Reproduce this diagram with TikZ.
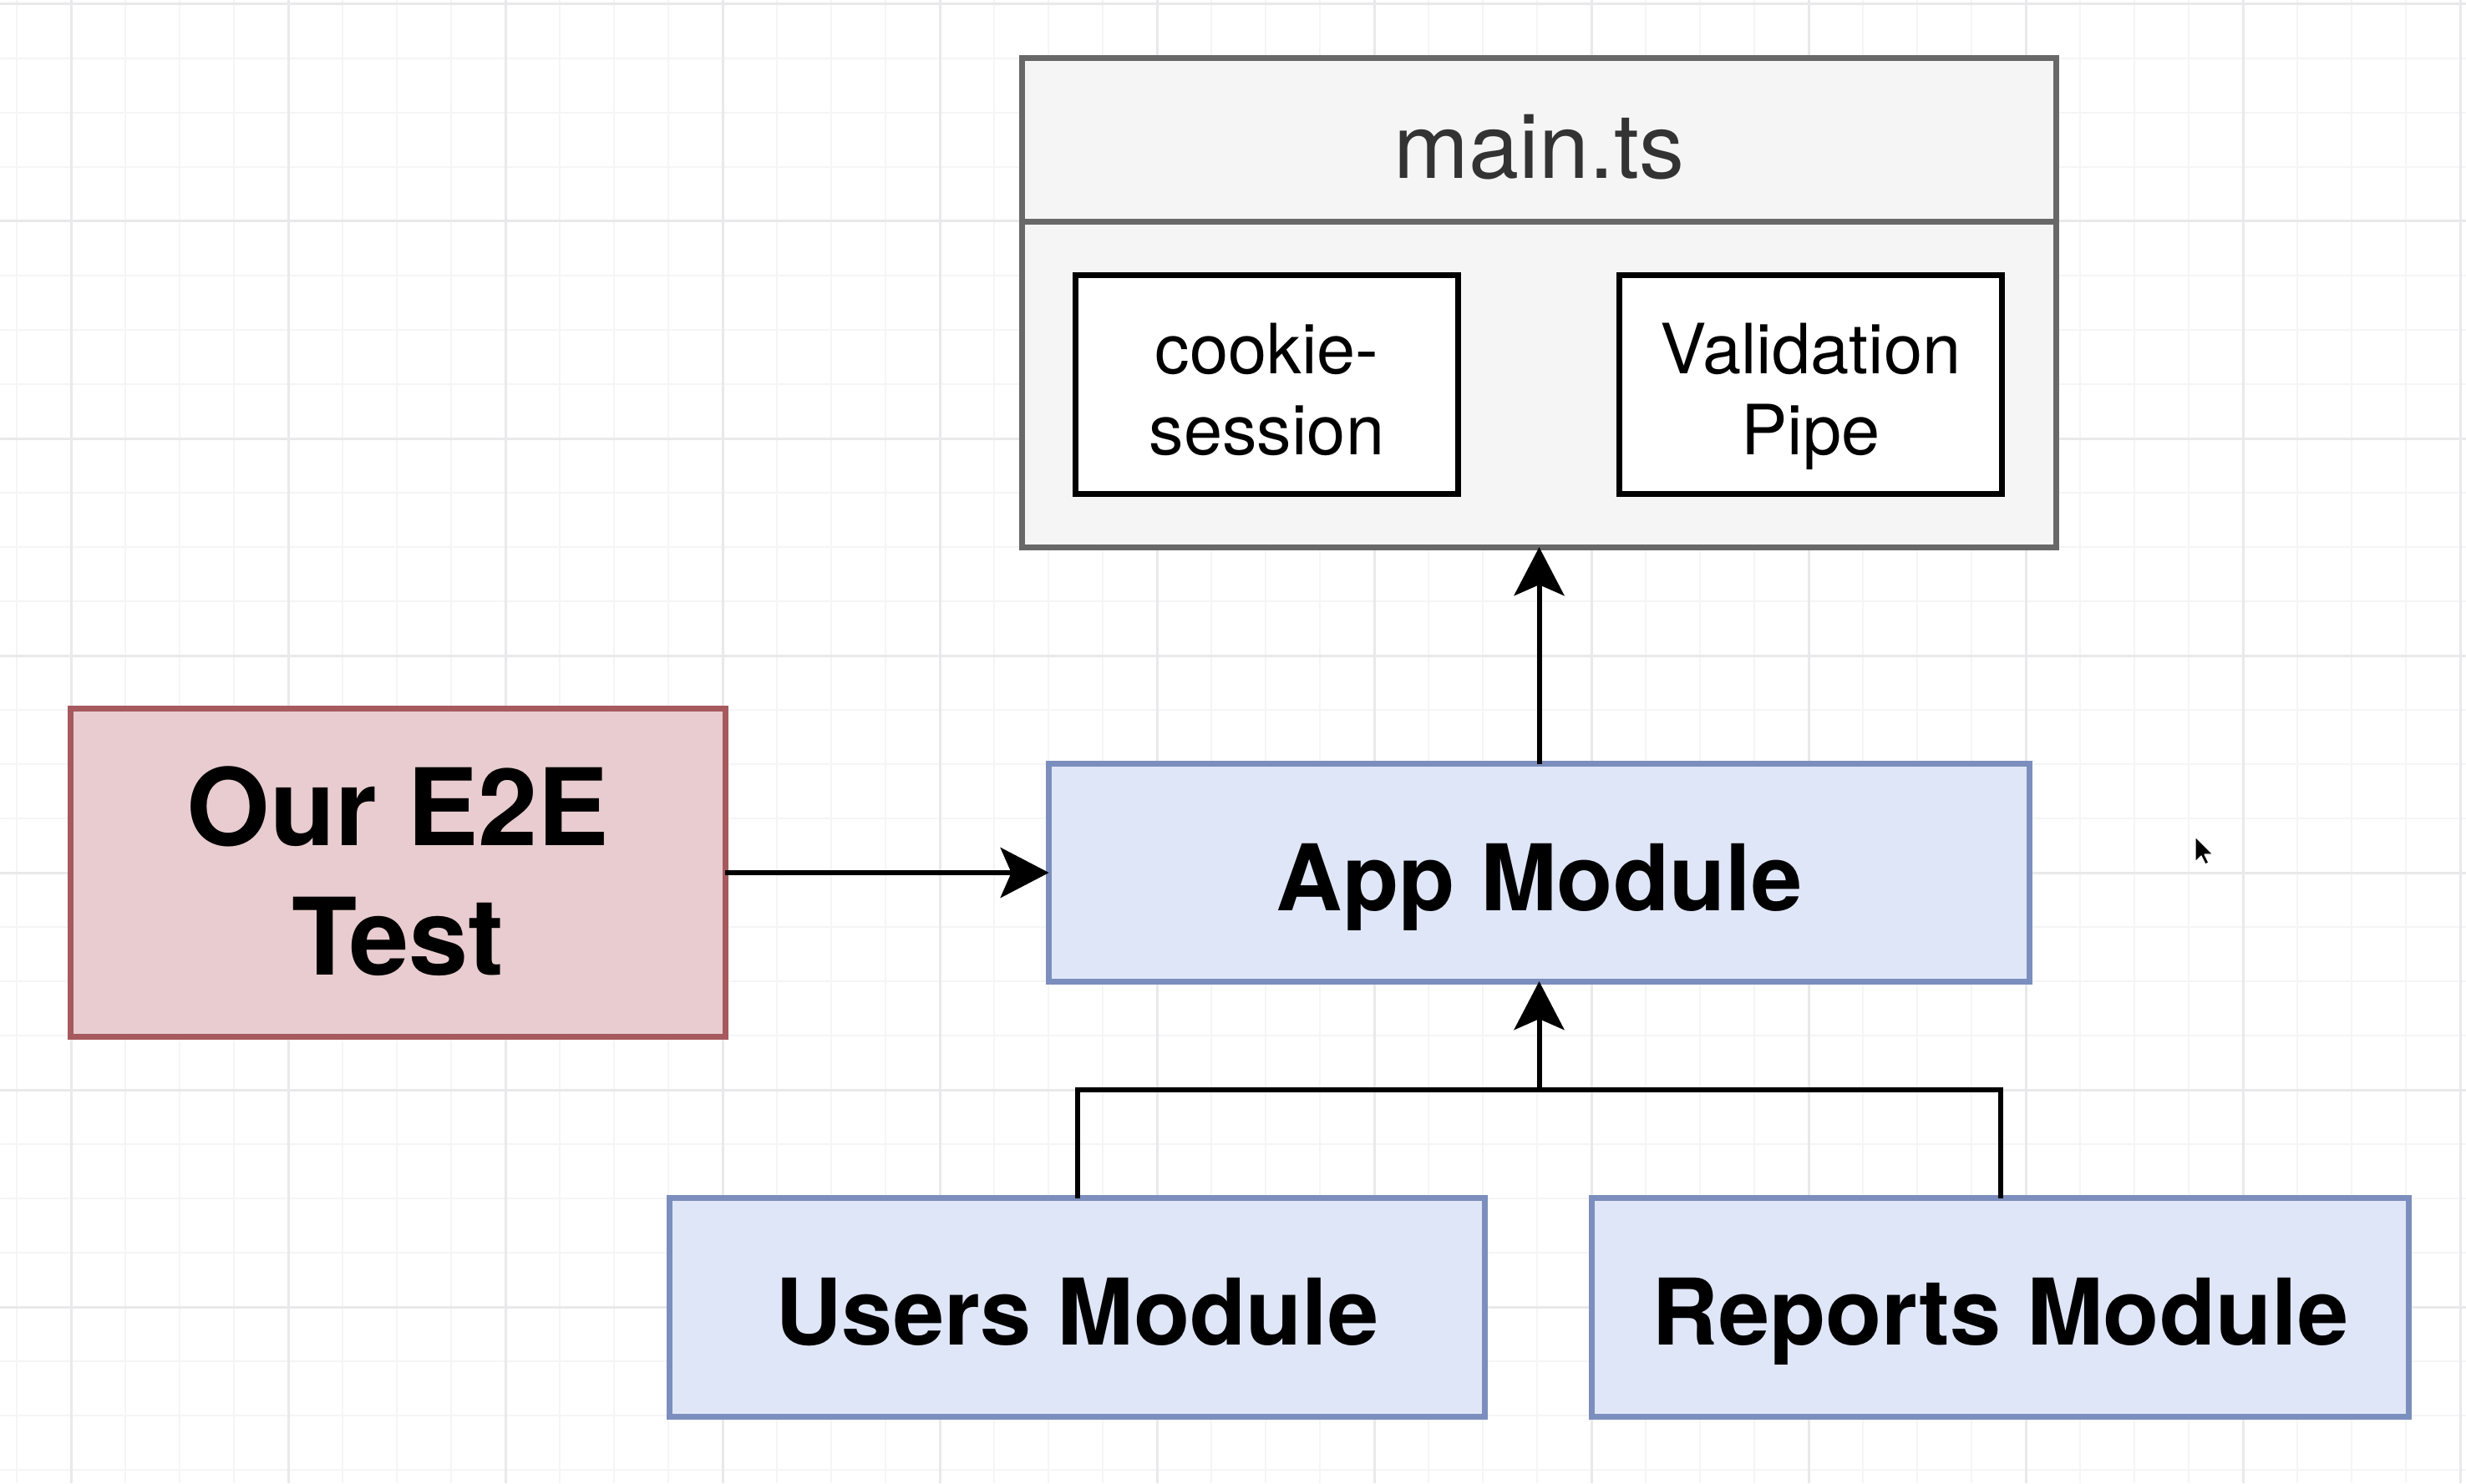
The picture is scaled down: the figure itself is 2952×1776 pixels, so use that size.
\documentclass[tikz,border=0pt]{standalone}
\usepackage{fontspec}
\setmainfont{TeX Gyre Heros}
\usetikzlibrary{arrows.meta}

\definecolor{gridminor}{HTML}{F5F5F6}
\definecolor{gridmajor}{HTML}{E9E9EB}
\definecolor{shellfill}{HTML}{F5F5F5}
\definecolor{shellline}{HTML}{686868}
\definecolor{titletext}{HTML}{333333}
\definecolor{modfill}{HTML}{DFE6F8}
\definecolor{modline}{HTML}{7C8EBD}
\definecolor{testfill}{HTML}{E9CCCF}
\definecolor{testline}{HTML}{A65A5E}

% invisible struts that fix where the text sits inside its box
\newcommand\upstrut[1]{\rule{0pt}{#1em}}
\newcommand\dnstrut[1]{\rule[-#1em]{0pt}{#1em}}

\tikzset{
  box/.style={rectangle, inner sep=0pt, outer sep=0pt, line width=0.07cm, align=center},
  shell/.style={box, draw=shellline, fill=shellfill},
  plainbox/.style={box, draw=black, fill=white,
    font=\fontsize{23.6}{27.6}\selectfont},
  module/.style={box, draw=modline, fill=modfill,
    font=\fontsize{31.3}{37}\selectfont\bfseries},
  testbox/.style={box, draw=testline, fill=testfill,
    font=\fontsize{36.4}{44.1}\selectfont\bfseries},
  wire/.style={line width=0.06cm, black},
  link/.style={wire, -{Stealth[length=0.58cm, width=0.6cm, inset=0.13cm]}},
}

\begin{document}
\begin{tikzpicture}[x=0.01cm, y=-0.01cm]
  \useasboundingbox (0,0) rectangle (2952,1776);
  \fill[white] (0,0) rectangle (2952,1776);

  % background grid
  \foreach \i in {0,...,45}
    \draw[gridminor, line width=0.02cm] ({20+65*\i},0) -- ({20+65*\i},1776);
  \foreach \i in {0,...,27}
    \draw[gridminor, line width=0.02cm] (0,{5+65*\i}) -- (2952,{5+65*\i});
  \foreach \i in {0,...,11}
    \draw[gridmajor, line width=0.03cm] ({85+260*\i},0) -- ({85+260*\i},1776);
  \foreach \i in {0,...,6}
    \draw[gridmajor, line width=0.03cm] (0,{5+260*\i}) -- (2952,{5+260*\i});

  % main.ts container with its header
  \node[shell, minimum width=12.37cm, minimum height=5.85cm] (main) at (1842.5,362.5) {};
  \node[shell, minimum width=12.37cm, minimum height=1.95cm, text=titletext,
        font=\fontsize{30.7}{36}\selectfont] (maintitle) at (1842.5,167.5)
        {\upstrut{1.2}main.ts\dnstrut{0.34}};

  \node[plainbox, minimum width=4.57cm, minimum height=2.61cm] (cookie) at (1516.5,460.5)
        {\upstrut{1.2}cookie-\\session\dnstrut{0.345}};
  \node[plainbox, minimum width=4.57cm, minimum height=2.61cm] (pipe) at (2167.5,460.5)
        {\upstrut{1.2}Validation\\Pipe\dnstrut{0.345}};

  % modules
  \node[testbox, minimum width=7.83cm, minimum height=3.92cm] (e2e) at (476.5,1045)
        {\upstrut{1.2}Our E2E\\Test\dnstrut{0.49}};
  \node[module, minimum width=11.73cm, minimum height=2.60cm] (app) at (1842.5,1045)
        {\upstrut{1.2}App Module\dnstrut{0.38}};
  \node[module, minimum width=9.75cm, minimum height=2.61cm] (users) at (1289.5,1565.5)
        {\upstrut{1.2}Users Module\dnstrut{0.38}};
  \node[module, minimum width=9.77cm, minimum height=2.61cm] (reports) at (2394.5,1565.5)
        {\upstrut{1.2}Reports Module\dnstrut{0.38}};

  % connectors
  \coordinate (merge) at (1842.5,1305);
  \draw[link] (app.north) -- (main.south);
  \draw[link] (e2e.east) -- (app.west);
  \draw[wire] (reports.north) |- (merge);
  \draw[link] (users.north) |- (merge) -- (app.south);

  % mouse pointer
  \fill[black, draw=white, line width=0.012cm, line join=round]
    (2628,1002) -- ++(0,30) -- ++(7,-7) -- ++(5,10) -- ++(4,-2)
    -- ++(-5,-10) -- ++(10,0) -- cycle;
\end{tikzpicture}
\end{document}
